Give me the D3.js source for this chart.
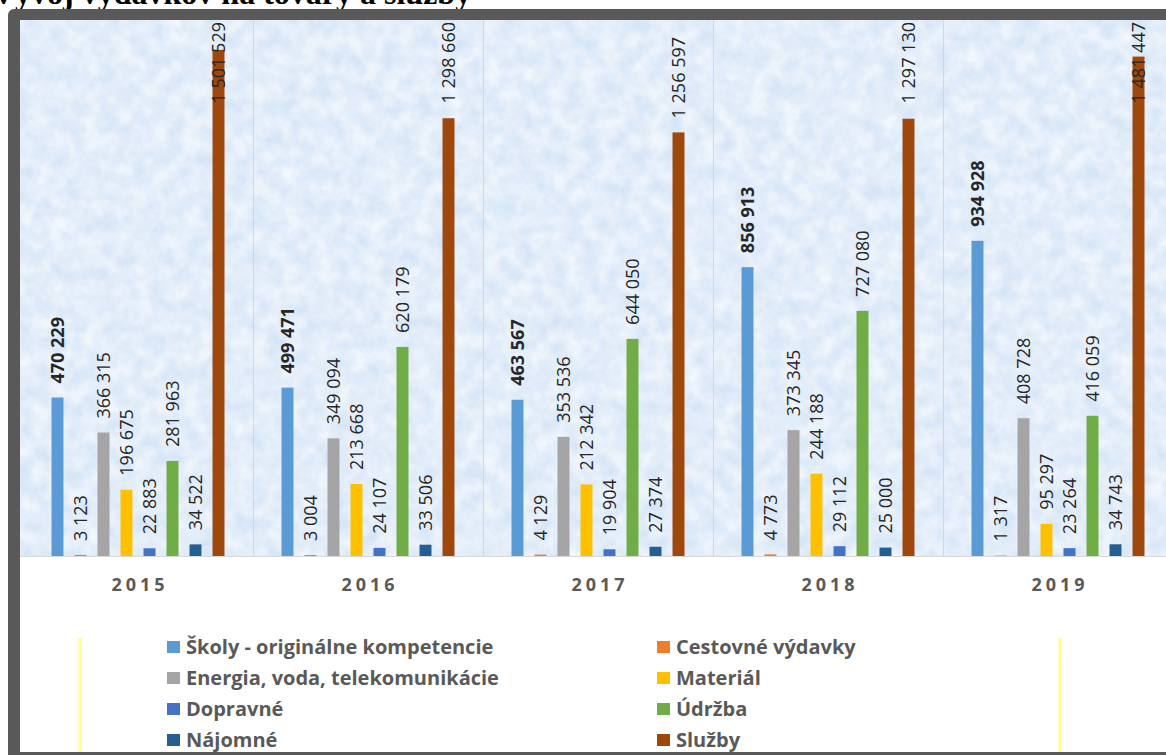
<!DOCTYPE html>
<html>
<head>
<meta charset="utf-8">
<script src="https://cdn.jsdelivr.net/npm/d3@7"></script>
<style>
  body { margin: 0; background: #ffffff; overflow: hidden; }
</style>
</head>
<body>
<div id="chart"></div>
<script>

var years = ["2015", "2016", "2017", "2018", "2019"];

var series = ["Školy - originálne kompetencie", "Cestovné výdavky", "Energia, voda, telekomunikácie",
              "Materiál", "Dopravné", "Údržba", "Nájomné", "Služby"];

var colors = ["#5b9bd5", "#ed7d31", "#a5a5a5", "#ffc000", "#4472c4", "#70ad47", "#255e91", "#9e480e"];

// one array per series, values by year
var skoly     = [470229, 499471, 463567, 856913, 934928];
var cestovne  = [3123, 3004, 4129, 4773, 1317];
var energia   = [366315, 349094, 353536, 373345, 408728];
var material  = [196675, 213668, 212342, 244188, 95297];
var dopravne  = [22883, 24107, 19904, 29112, 23264];
var udrzba    = [281963, 620179, 644050, 727080, 416059];
var najomne   = [34522, 33506, 27374, 25000, 34743];
var sluzby    = [1501529, 1298660, 1256597, 1297130, 1481447];

var values = [skoly, cestovne, energia, material, dopravne, udrzba, najomne, sluzby];

var W = 1166, H = 755;

var svg = d3.select("#chart").append("svg")
            .attr("width", W)
            .attr("height", H);

var defs = svg.append("defs");
var tex = defs.append("filter").attr("id", "tex")
              .attr("x", 0).attr("y", 0).attr("width", "100%").attr("height", "100%");
tex.append("feTurbulence").attr("type", "fractalNoise").attr("baseFrequency", "0.06")
   .attr("numOctaves", 4).attr("seed", 7);
tex.append("feColorMatrix").attr("type", "matrix")
   .attr("values", "0 0 0 0 1  0 0 0 0 1  0 0 0 0 1  1.1 0 0 0 -0.25");

// title (cut at top, as in the source)
svg.append("text")
   .attr("x", -8)
   .attr("y", 4)
   .attr("font-family", "Liberation Serif, Times New Roman, serif")
   .attr("font-weight", "bold")
   .attr("font-size", 32)
   .attr("fill", "#000")
   .text("Vývoj výdavkov na tovary a služby");

// frame
svg.append("rect")
   .attr("x", 8).attr("y", 9)
   .attr("width", W + 20).attr("height", H)
   .attr("rx", 6)
   .attr("fill", "#595959");

svg.append("rect")
   .attr("x", 20).attr("y", 20)
   .attr("width", W).attr("height", 732)
   .attr("fill", "#ffffff");

var plotTop = 20, base = 556;

// textured plot background
svg.append("rect")
   .attr("x", 20).attr("y", plotTop)
   .attr("width", W).attr("height", base - plotTop)
   .attr("fill", "#d7e6f7");
svg.append("rect")
   .attr("x", 20).attr("y", plotTop)
   .attr("width", W).attr("height", base - plotTop)
   .attr("fill", "#fff")
   .attr("filter", "url(#tex)");

var x0 = d3.scaleBand().domain(years).range([23, 1173]).padding(0);

var x1 = d3.scaleBand().domain(series).range([0, x0.bandwidth()])
           .paddingInner(0.48).paddingOuter(1.24);

var y = d3.scaleLinear().domain([0, 1590000]).range([base, plotTop]);

// category separators
svg.append("g").selectAll("line")
   .data(years.slice(1))
   .join("line")
   .attr("x1", function(d){ return x0(d) + 0.5 })
   .attr("x2", function(d){ return x0(d) + 0.5 })
   .attr("y1", plotTop)
   .attr("y2", base)
   .attr("stroke", "#d0d7e0")
   .attr("stroke-width", 1);

// baseline
svg.append("line")
   .attr("x1", 20).attr("x2", W)
   .attr("y1", base + 0.5).attr("y2", base + 0.5)
   .attr("stroke", "#d9d9d9");

var cells = [];
for (var s = 0; s < series.length; s++)
  for (var i = 0; i < years.length; i++)
    cells.push({s: s, year: years[i], v: values[s][i]});

svg.append("g").selectAll("rect")
   .data(cells)
   .join("rect")
   .attr("x", function(d){ return x0(d.year) + x1(series[d.s]) })
   .attr("y", function(d){ return y(d.v) })
   .attr("width", x1.bandwidth())
   .attr("height", function(d){ return base - y(d.v) })
   .attr("fill", function(d){ return colors[d.s] });

var fmt = function(v){ return d3.format(",")(v).replace(/,/g, " ") };

var labels = svg.append("g").selectAll("text")
   .data(cells)
   .join("text")
   .attr("font-family", "Open Sans, Liberation Sans, sans-serif")
   .attr("font-size", 18)
   .attr("font-weight", function(d){ return d.s === 0 ? "bold" : "normal" })
   .attr("fill", "#262626")
   .attr("dy", "0.36em")
   .text(function(d){ return fmt(d.v) });

labels.attr("transform", function(d){
  var len = this.getComputedTextLength();
  var cx = x0(d.year) + x1(series[d.s]) + x1.bandwidth() / 2;
  var startY = y(d.v) - 14;
  if (startY - len < plotTop + 12) startY = plotTop + 2 + len;
  return "translate(" + cx + "," + startY + ") rotate(-90)";
});

// year labels
svg.append("g").selectAll("text")
   .data(years)
   .join("text")
   .attr("x", function(d){ return x0(d) + x0.bandwidth() / 2 + 2 })
   .attr("y", 591)
   .attr("text-anchor", "middle")
   .attr("font-family", "Open Sans, Liberation Sans, sans-serif")
   .attr("font-weight", "bold")
   .attr("font-size", 18)
   .attr("letter-spacing", 4)
   .attr("fill", "#595959")
   .text(function(d){ return d });

// yellow vertical lines in legend area
svg.append("g").selectAll("line")
   .data([80, 1060])
   .join("line")
   .attr("x1", function(d){ return d }).attr("x2", function(d){ return d })
   .attr("y1", 638).attr("y2", 752)
   .attr("stroke", "#ffff8a")
   .attr("stroke-width", 3);

// legend: two columns, four rows
var legX = [167, 657];
var leg = svg.append("g").selectAll("g")
   .data(series)
   .join("g")
   .attr("transform", function(d, i){
     return "translate(" + legX[i % 2] + "," + (647 + Math.floor(i / 2) * 31) + ")";
   });

leg.append("rect")
   .attr("x", 0).attr("y", -6)
   .attr("width", 13).attr("height", 12)
   .attr("fill", function(d, i){ return colors[i] });

leg.append("text")
   .attr("x", 19)
   .attr("dy", "0.36em")
   .attr("font-family", "Open Sans, Liberation Sans, sans-serif")
   .attr("font-weight", "bold")
   .attr("font-size", 20)
   .attr("fill", "#595959")
   .text(function(d){ return d });

</script>
</body>
</html>
